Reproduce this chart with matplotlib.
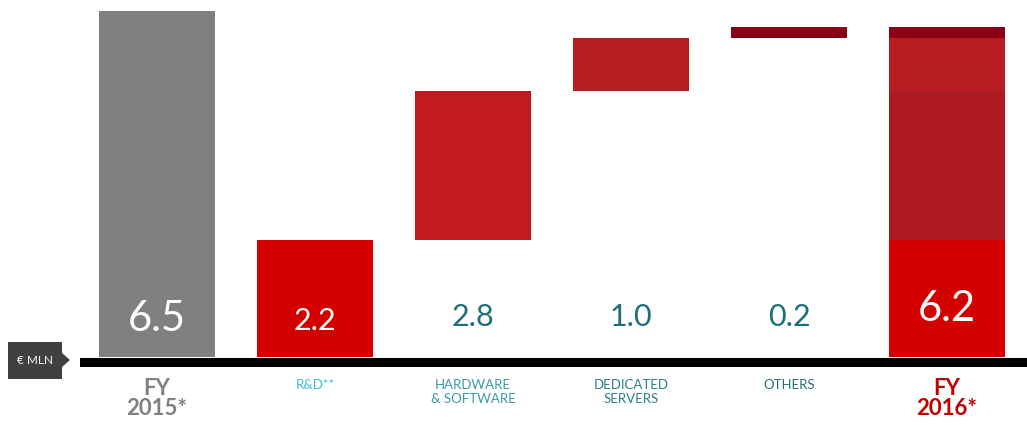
import matplotlib
matplotlib.use("Agg")
import matplotlib.pyplot as plt
from matplotlib.patches import Polygon, Rectangle

categories = ["FY\n2015*", "R&D**", "HARDWARE\n& SOFTWARE", "DEDICATED\nSERVERS", "OTHERS", "FY\n2016*"]
start_value = 6.5
deltas = [2.2, 2.8, 1.0, 0.2]
end_value = 6.2
value_labels = ["6.5", "2.2", "2.8", "1.0", "0.2", "6.2"]

delta_colors = ["#D40000", "#C11B21", "#B71C20", "#8B0016"]
stack_colors = ["#D40000", "#AE1A21", "#B71C20", "#8B0016"]
cat_colors = ["#808080", "#3FC0D0", "#3A9AA5", "#2F7F86", "#2A6F78", "#C00000"]
grey = "#808080"

W, H = 1027, 425
fig = plt.figure(figsize=(W / 100, H / 100), dpi=100)
ax = fig.add_axes([0, 0, 1, 1])
ppu = 53.2
ax.set_xlim(-157 / 158, (W - 157) / 158)
ax.set_ylim(-68 / ppu, 357 / ppu)
ax.axis("off")

bw = 116 / 158
font = ["Lato", "DejaVu Sans"]

# FY2015
ax.bar(0, start_value, width=bw, color=grey, bottom=0)
# deltas (waterfall)
bottom = 0.0
for i, (d, c) in enumerate(zip(deltas, delta_colors)):
    ax.bar(i + 1, d, width=bw, bottom=bottom, color=c)
    bottom += d
# FY2016 stacked
bottom = 0.0
for d, c in zip(deltas, stack_colors):
    ax.bar(5, d, width=bw, bottom=bottom, color=c)
    bottom += d

# baseline
ax.add_patch(Rectangle((-0.487, -0.19), 6.5, 0.17, color="black", lw=0))

# value labels
label_y = [0.72, 0.68, 0.76, 0.76, 0.76, 0.91]
label_sizes = [30, 22, 22, 22, 22, 30]
label_cols = ["white", "white", "#1F6F78", "#1F6F78", "#1F6F78", "white"]
for i, (t, y, s, c) in enumerate(zip(value_labels, label_y, label_sizes, label_cols)):
    ax.text(i, y, t, ha="center", va="center", fontsize=s, color=c,
            family=font, fontweight="normal")

# category labels
for i, (t, c) in enumerate(zip(categories, cat_colors)):
    if i in (0, 5):
        ax.text(i, -0.4, t, ha="center", va="top", fontsize=16, color=c,
                fontweight="bold", family=font, linespacing=0.95)
    else:
        ax.text(i, -0.42, t, ha="center", va="top", fontsize=9.5, color=c,
                family=font, linespacing=1.2)

# € MLN tag
def fx(px):
    return px / W
def fy(py):
    return 1 - py / H
tag = Polygon([(fx(8), fy(342)), (fx(62), fy(342)), (fx(62), fy(353)), (fx(70), fy(360)),
               (fx(62), fy(367)), (fx(62), fy(379)), (fx(8), fy(379))],
              closed=True, transform=fig.transFigure, color="#404040", lw=0)
fig.add_artist(tag)
fig.text(fx(35), fy(361), "€ MLN", ha="center", va="center", fontsize=8.5,
         color="white", family=font)

fig.savefig("out.png", dpi=100)
